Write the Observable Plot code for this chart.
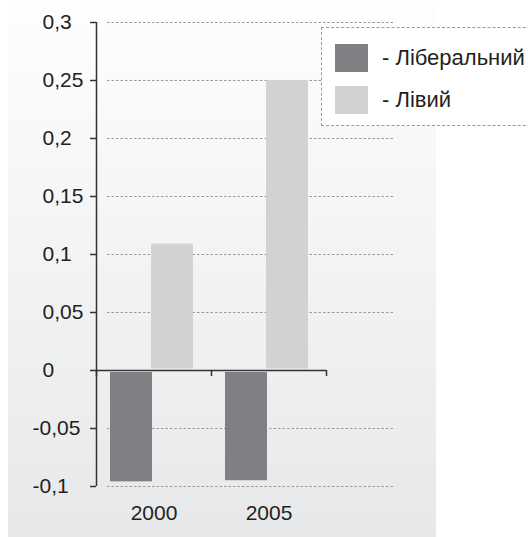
<!DOCTYPE html>
<html>
<head>
<meta charset="utf-8">
<script src="https://cdn.jsdelivr.net/npm/d3@7"></script>
<script src="https://cdn.jsdelivr.net/npm/@observablehq/plot@0.6"></script>
<style>
  html, body { margin: 0; padding: 0; background: #fff; }
  #wrap { position: relative; width: 528px; height: 537px; overflow: hidden; font-family: "Liberation Sans", Arial, sans-serif; color: #231f20; }
  #bg { position: absolute; left: 8px; top: 0; width: 428px; height: 537px; background: linear-gradient(#fefefe, #e7e8e9); }
  #chart { position: absolute; left: 0; top: 0; }
  #legend { position: absolute; left: 321px; top: 27px; width: 230px; height: 99px; background: #fff; border: 1px dashed #9a9a9a; box-sizing: border-box; }
  .item { position: absolute; left: 13px; display: flex; align-items: center; font-size: 22px; white-space: nowrap; }
  .sw { width: 33px; height: 28px; margin-right: 14px; flex: none; }
</style>
</head>
<body>
<div id="wrap">
  <div id="bg"></div>
  <div id="chart"></div>
  <div id="legend"></div>
</div>
<script>
const years = ["2000", "2005"];
const parties = ["Ліберальний", "Лівий"];
const liberalValues = [-0.096, -0.095];
const leftValues = [0.109, 0.25];
const yTicks = [-0.1, -0.05, 0, 0.05, 0.1, 0.15, 0.2, 0.25, 0.3];
const colors = ["#7f8083", "#d1d2d4"];

const data = [];
years.forEach((y, i) => {
  data.push({year: y, party: parties[0], value: liberalValues[i]});
  data.push({year: y, party: parties[1], value: leftValues[i]});
});

const W = 528, H = 537, mL = 96, mR = 202, mT = 22, mB = 51;
const plotW = W - mL - mR;
const bw = plotW / years.length;
const fmt = d => String(d).replace(".", ",");
const axisColor = "#333333";
const textColor = "#231f20";
const font = "Liberation Sans, Arial, sans-serif";

const chart = Plot.plot({
  width: W, height: H,
  marginLeft: mL, marginRight: mR, marginTop: mT, marginBottom: mB,
  style: {background: "transparent", fontFamily: font, fontSize: "21px", color: textColor},
  x: {type: "band", domain: years, padding: 0, label: null, axis: null},
  y: {domain: [-0.1, 0.3], label: null, axis: null},
  marks: [
    Plot.ruleY(yTicks.filter(d => d !== 0), {y: d => d, stroke: "#9a9a9a", strokeWidth: 1, strokeDasharray: "2.5,2", insetLeft: 11, insetRight: -68}),
    Plot.barY(data.filter(d => d.party === parties[0]), {x: "year", y: "value", fill: colors[0], insetLeft: 14, insetRight: 59, insetTop: 2}),
    Plot.barY(data.filter(d => d.party === parties[1]), {x: "year", y: "value", fill: colors[1], insetLeft: 55, insetRight: 18, insetBottom: 1.5}),
    Plot.ruleY([0], {stroke: axisColor, strokeWidth: 1.5}),
    Plot.ruleX([years[0]], {x: d => d, dx: -bw / 2, y1: -0.1, y2: 0.3, stroke: axisColor, strokeWidth: 1.5}),
    Plot.ruleX(years, {x: d => d, dx: -bw / 2, y1: 0, y2: 0, insetBottom: -6, stroke: axisColor, strokeWidth: 1.5}),
    Plot.ruleX([years[years.length - 1]], {x: d => d, dx: bw / 2, y1: 0, y2: 0, insetBottom: -6, stroke: axisColor, strokeWidth: 1.5}),
    Plot.ruleY(yTicks, {y: d => d, insetLeft: -6, insetRight: plotW, stroke: axisColor, strokeWidth: 1.5}),
    Plot.text(yTicks.filter(d => d >= 0), {y: d => d, text: fmt, frameAnchor: "left", textAnchor: "start", dx: -54, fontSize: 21, fontFamily: font, fill: textColor}),
    Plot.text(yTicks.filter(d => d < 0), {y: d => d, text: fmt, frameAnchor: "left", textAnchor: "start", dx: -64, fontSize: 21, fontFamily: font, fill: textColor}),
    Plot.text(years, {x: d => d, text: d => d, frameAnchor: "bottom", lineAnchor: "top", dy: 19, fontSize: 21, fontFamily: font, fill: textColor})
  ]
});
document.getElementById("chart").appendChild(chart);

const legend = document.getElementById("legend");
parties.forEach((p, i) => {
  const it = document.createElement("div");
  it.className = "item";
  it.style.top = (i === 0 ? 16 : 58) + "px";
  const sw = document.createElement("div");
  sw.className = "sw";
  sw.style.background = colors[i];
  const t = document.createElement("span");
  t.textContent = "- " + p;
  it.appendChild(sw);
  it.appendChild(t);
  legend.appendChild(it);
});
</script>
</body>
</html>
